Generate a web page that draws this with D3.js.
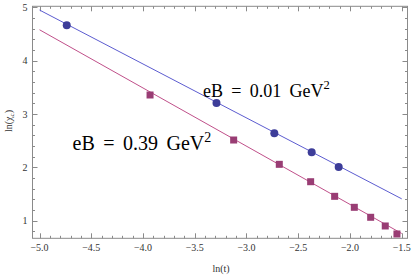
<!DOCTYPE html>
<html><head><meta charset="utf-8">
<script src="https://cdn.jsdelivr.net/npm/d3@7"></script>
<style>body{margin:0;background:#fff}svg{display:block}</style>
</head><body>
<script>
// Data
const blueX = [-4.737, -3.290, -2.731, -2.370, -2.109];
const blueY = [4.663, 3.206, 2.638, 2.282, 2.007];
const redX = [-3.932, -3.124, -2.683, -2.380, -2.148, -1.958, -1.800, -1.659, -1.546];
const redY = [3.357, 2.513, 2.057, 1.731, 1.457, 1.251, 1.064, 0.901, 0.751];
const blueLineX = [-5.0, -1.5];
const blueLineY = [4.95, 1.41];
const redLineX = [-5.0, -1.5];
const redLineY = [4.58, 0.76];
const xTicks = [-5.0, -4.5, -4.0, -3.5, -3.0, -2.5, -2.0, -1.5];
const yTicks = [1, 2, 3, 4, 5];

const W = 415, H = 278;
const L = 32.5, R = 407.5, T = 6.3, B = 238.3;
const x = d3.scaleLinear().domain([-5.068, -1.444]).range([L, R]);
const y = d3.scaleLinear().domain([0.67, 5.02]).range([B, T]);

const svg = d3.select("body").append("svg").attr("width", W).attr("height", H);
const font = "'Liberation Serif'";
const axisCol = "#8a8a8a";

// frame
svg.append("rect").attr("x", L).attr("y", T).attr("width", R - L).attr("height", B - T)
  .attr("fill", "none").attr("stroke", axisCol).attr("stroke-width", 1);

// ticks
const xMinor = d3.range(-5.0, -1.44, 0.1).map(v => +v.toFixed(2));
const yMinor = d3.range(0.8, 5.01, 0.2).map(v => +v.toFixed(2));
const g = svg.append("g").attr("stroke", axisCol).attr("stroke-width", 1);
xMinor.forEach(v => {
  const major = xTicks.some(t => Math.abs(t - v) < 1e-6);
  const len = major ? 5 : 2.5;
  const px = Math.round(x(v)) + 0.5;
  g.append("line").attr("x1", px).attr("x2", px).attr("y1", B).attr("y2", B - len);
  g.append("line").attr("x1", px).attr("x2", px).attr("y1", T).attr("y2", T + len);
});
yMinor.forEach(v => {
  const major = yTicks.some(t => Math.abs(t - v) < 1e-6);
  const len = major ? 5 : 2.5;
  const py = Math.round(y(v)) + 0.5;
  g.append("line").attr("x1", L).attr("x2", L + len).attr("y1", py).attr("y2", py);
  g.append("line").attr("x1", R).attr("x2", R - len).attr("y1", py).attr("y2", py);
});

// tick labels
xTicks.forEach(v => {
  svg.append("text").attr("x", x(v)).attr("y", B + 13).attr("text-anchor", "middle")
    .style("font-family", font).attr("font-size", 10).attr("fill", "#333")
    .text(d3.format(".1f")(v).replace("-", "\u2212"));
});
yTicks.forEach(v => {
  svg.append("text").attr("x", L - 5).attr("y", y(v) + 3.5).attr("text-anchor", "end")
    .style("font-family", font).attr("font-size", 10).attr("fill", "#333")
    .text(v);
});

// axis labels
svg.append("text").attr("x", (L + R) / 2 + 1).attr("y", 272).attr("text-anchor", "middle")
  .style("font-family", font).attr("font-size", 10).attr("fill", "#333").text("ln(t)");
const yl = svg.append("text").attr("transform", "translate(12,121) rotate(-90)")
  .attr("text-anchor", "middle").style("font-family", font).attr("font-size", 10).attr("fill", "#333");
yl.append("tspan").text("ln(\u03c7");
yl.append("tspan").attr("font-size", 7).attr("dy", 2).text("c");
yl.append("tspan").attr("dy", -2).text(")");

// lines
const line = d3.line().x(d => x(d[0])).y(d => y(d[1]));
svg.append("path").datum(d3.zip(blueLineX, blueLineY)).attr("d", line)
  .attr("fill", "none").attr("stroke", "#5c5cd0").attr("stroke-width", 1);
svg.append("path").datum(d3.zip(redLineX, redLineY)).attr("d", line)
  .attr("fill", "none").attr("stroke", "#c0508a").attr("stroke-width", 1);

// markers
svg.append("g").selectAll("circle").data(d3.zip(blueX, blueY)).join("circle")
  .attr("cx", d => x(d[0])).attr("cy", d => y(d[1])).attr("r", 4)
  .attr("fill", "#3d3d99");
const s = 7;
svg.append("g").selectAll("rect").data(d3.zip(redX, redY)).join("rect")
  .attr("x", d => x(d[0]) - s / 2).attr("y", d => y(d[1]) - s / 2)
  .attr("width", s).attr("height", s).attr("fill", "#993d74");

// annotations
function ann(tx, ty, val, fs, ws) {
  const t = svg.append("text").attr("x", tx).attr("y", ty)
    .style("font-family", font).attr("font-size", fs).attr("fill", "#000")
    .attr("word-spacing", ws);
  t.append("tspan").text("eB = " + val + " GeV");
  t.append("tspan").attr("font-size", fs * 0.7).attr("dy", -fs * 0.42).text("2");
}
ann(203, 97, "0.01", 18, 3.8);
ann(72.5, 150, "0.39", 20, 3.5);
</script>
</body></html>
